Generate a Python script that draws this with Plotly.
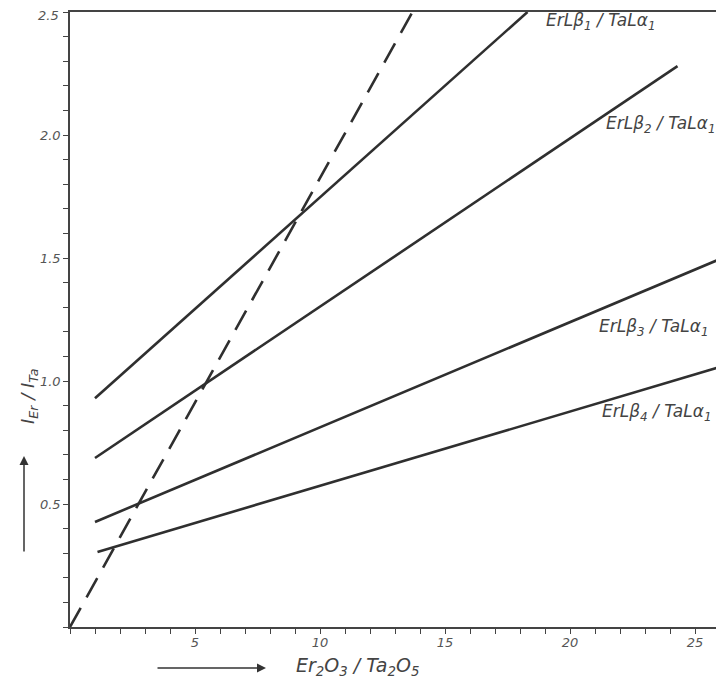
import plotly.graph_objects as go

# Data (x = Er2O3/Ta2O5, y = I_Er/I_Ta); straight calibration lines
beta1_x = [1.0, 18.3]
beta1_y = [0.93, 2.5]
beta2_x = [1.0, 24.3]
beta2_y = [0.687, 2.28]
beta3_x = [1.0, 26.1]
beta3_y = [0.427, 1.50]
beta4_x = [1.1, 26.1]
beta4_y = [0.305, 1.06]
dashed_x = [0.0, 13.7]
dashed_y = [0.0, 2.5]

series_names = ["ErLβ<sub>1</sub> / TaLα<sub>1</sub>", "ErLβ<sub>2</sub> / TaLα<sub>1</sub>",
                "ErLβ<sub>3</sub> / TaLα<sub>1</sub>", "ErLβ<sub>4</sub> / TaLα<sub>1</sub>"]
x_tick_vals = [5, 10, 15, 20, 25]
y_tick_vals = [0.5, 1.0, 1.5, 2.0, 2.5]
y_tick_text = ["0.5", "1.0", "1.5", "2.0", "2.5"]

# page body has an 8px default margin; figure sized so it fills the 724x685 window
OFF = 8
W, H = 724 - OFF, 685 - OFF
ML, MR, MT, MB = 70 - OFF, 2, 12 - OFF, 58
PW, PH = W - ML - MR, H - MT - MB

def px(xs):
    return (xs - OFF - ML) / PW

def py(ys):
    return (OFF + H - MB - ys) / PH

ink = "#2f2f2f"
font_fam = "DejaVu Sans, Liberation Sans, sans-serif"
tick_font = dict(family=font_fam, size=13, color="#555")

fig = go.Figure()
for xs, ys, nm in [(beta1_x, beta1_y, series_names[0]), (beta2_x, beta2_y, series_names[1]),
                   (beta3_x, beta3_y, series_names[2]), (beta4_x, beta4_y, series_names[3])]:
    fig.add_trace(go.Scatter(x=xs, y=ys, mode="lines", name=nm,
                             line=dict(color=ink, width=2.6), showlegend=False))
fig.add_trace(go.Scatter(x=dashed_x, y=dashed_y, mode="lines", name="reference",
                         line=dict(color=ink, width=2.6, dash="22px,12px"), showlegend=False))

# top tick label (2.5) is drawn as an annotation so it is not clipped at the page edge
y_labels_axis = [f"<i>{t}</i>" for t in y_tick_text[:-1]] + [""]

fig.update_xaxes(range=[0, PW / 25.0], tickvals=x_tick_vals, automargin=False,
                 ticktext=[f"<i>{v}</i>" for v in x_tick_vals], ticklabeloverflow="allow",
                 showgrid=False, zeroline=False, showline=True, linecolor="#444", linewidth=1.5,
                 mirror=True, ticks="outside", ticklen=5, tickcolor="#444", tickwidth=1.2,
                 ticklabelstandoff=-2, tickfont=tick_font,
                 minor=dict(dtick=1, ticks="outside", ticklen=5, tickcolor="#444", tickwidth=1.2))
fig.update_yaxes(range=[0, 2.5], tickvals=y_tick_vals, automargin=False,
                 ticktext=y_labels_axis, ticklabeloverflow="allow",
                 showgrid=False, zeroline=False, showline=True, linecolor="#444", linewidth=1.5,
                 mirror=True, ticks="outside", ticklen=5, tickcolor="#444", tickwidth=1.2,
                 tickfont=tick_font,
                 minor=dict(dtick=0.1, ticks="outside", ticklen=5, tickcolor="#444", tickwidth=1.2))

lab_font = dict(family=font_fam, size=17, color="#444")
label_pos = [(600, 22), (660, 125), (653, 327), (656, 412)]
annotations = []
for nm, (lx, ly) in zip(series_names, label_pos):
    annotations.append(dict(x=px(lx), y=py(ly), xref="paper", yref="paper",
                            xanchor="center", yanchor="middle",
                            text=f"<i>{nm}</i>", showarrow=False, font=lab_font))

annotations.append(dict(x=px(61), y=py(15), xref="paper", yref="paper",
                        xanchor="right", yanchor="middle", text=f"<i>{y_tick_text[-1]}</i>",
                        showarrow=False, font=tick_font))

# axis titles with arrows
annotations.append(dict(x=px(357), y=py(666), xref="paper", yref="paper",
                        xanchor="center", yanchor="middle",
                        text="<i>Er<sub>2</sub>O<sub>3</sub> / Ta<sub>2</sub>O<sub>5</sub></i>",
                        showarrow=False, font=dict(family=font_fam, size=19, color="#444")))
annotations.append(dict(x=px(266), y=py(668), xref="paper", yref="paper", text="",
                        showarrow=True, ax=-110, ay=0, arrowhead=2, arrowsize=1.2,
                        arrowwidth=1.5, arrowcolor="#333"))
annotations.append(dict(x=px(29), y=py(397), xref="paper", yref="paper",
                        xanchor="center", yanchor="middle",
                        text="<i>I<sub>Er</sub> / I<sub>Ta</sub></i>", textangle=-90,
                        showarrow=False, font=dict(family=font_fam, size=18, color="#444")))
annotations.append(dict(x=px(24), y=py(456), xref="paper", yref="paper", text="",
                        showarrow=True, ax=0, ay=97, arrowhead=2, arrowsize=1.2,
                        arrowwidth=1.5, arrowcolor="#333"))

fig.update_layout(width=W, height=H, margin=dict(l=ML, r=MR, t=MT, b=MB, autoexpand=False),
                  paper_bgcolor="white", plot_bgcolor="white",
                  annotations=annotations)

fig.write_html("out.html")
